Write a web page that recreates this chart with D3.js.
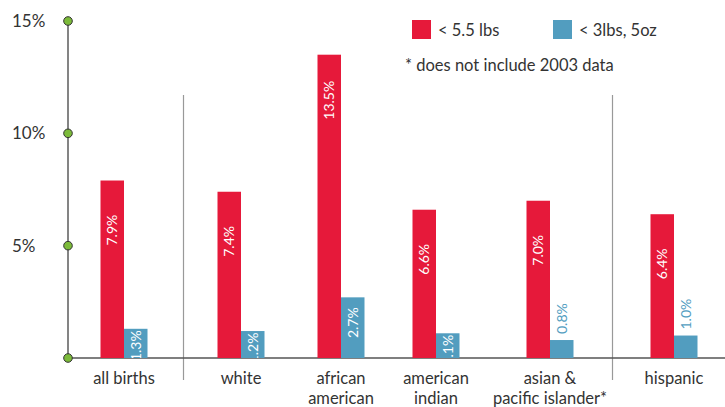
<!DOCTYPE html>
<html>
<head>
<meta charset="utf-8">
<script src="https://cdn.jsdelivr.net/npm/d3@7"></script>
<style>
  html, body { margin: 0; padding: 0; background: #fff; }
  svg { display: block; font-family: Lato, "Open Sans", sans-serif; }
</style>
</head>
<body>
<svg id="chart" width="725" height="407"></svg>
<script>
// ---- data ----
const categories = ["all births", "white", "african american", "american indian", "asian & pacific islander*", "hispanic"];
const categoryLines = [["all births"], ["white"], ["african", "american"], ["american", "indian"], ["asian &", "pacific islander*"], ["hispanic"]];
const under55lbs = [7.9, 7.4, 13.5, 6.6, 7.0, 6.4];
const under3lbs5oz = [1.3, 1.2, 2.7, 1.1, 0.8, 1.0];
const yTicks = [0, 5, 10, 15];
const yTickLabels = ["", "5%", "10%", "15%"];
const seriesNames = ["< 5.5 lbs", "< 3lbs, 5oz"];
const note = "* does not include 2003 data";

// ---- layout ----
const RED = "#E6193A", BLUE = "#529DBF", TEXT = "#333";
const axisX = 68, baseY = 358, topY = 21;
const groupCenters = [124, 241, 341, 436, 550, 674];
const barW = 23.5;

const svg = d3.select("#chart");
const x = d3.scaleOrdinal().domain(categories).range(groupCenters);
const y = d3.scaleLinear().domain([0, 15]).range([baseY, topY]);

// separators
[[0, 1], [4, 5]].forEach(([a, b]) => {
  const sx = Math.round((x(categories[a]) + x(categories[b])) / 2) + 0.5;
  svg.append("line").attr("x1", sx).attr("x2", sx).attr("y1", 95).attr("y2", 380)
    .attr("stroke", "#999").attr("stroke-width", 1.2);
});

// baseline
svg.append("line").attr("x1", axisX).attr("x2", 725).attr("y1", baseY).attr("y2", baseY)
  .attr("stroke", "#555").attr("stroke-width", 1.5);

// y axis line
svg.append("line").attr("x1", axisX).attr("x2", axisX).attr("y1", y(15)).attr("y2", y(0))
  .attr("stroke", "#777").attr("stroke-width", 1.8);

// bars
const rows = categories.map((c, i) => ({ c, r: under55lbs[i], b: under3lbs5oz[i] }));
svg.append("defs").append("clipPath").attr("id", "clipBase")
  .append("rect").attr("x", 0).attr("y", 0).attr("width", 725).attr("height", baseY);

const g = svg.append("g");
g.selectAll("rect.red").data(rows).join("rect").attr("class", "red")
  .attr("x", d => x(d.c) - barW).attr("width", barW)
  .attr("y", d => y(d.r)).attr("height", d => y(0) - y(d.r)).attr("fill", RED);
g.selectAll("rect.blue").data(rows).join("rect").attr("class", "blue")
  .attr("x", d => x(d.c)).attr("width", barW)
  .attr("y", d => y(d.b)).attr("height", d => y(0) - y(d.b)).attr("fill", BLUE);

// red labels
g.selectAll("text.rl").data(rows).join("text").attr("class", "rl")
  .attr("transform", d => `translate(${x(d.c) - barW / 2 + 5},${y(d.r) + 65}) rotate(-90)`)
  .attr("text-anchor", "start").attr("fill", "#fff").attr("font-size", 14)
  .text(d => d.r.toFixed(1) + "%");

// blue labels
const lg = svg.append("g").attr("clip-path", "url(#clipBase)");
lg.selectAll("text.bl").data(rows).join("text").attr("class", "bl")
  .each(function (d) {
    const t = d3.select(this);
    const cx = x(d.c) + barW / 2 + 5;
    const h = y(0) - y(d.b);
    if (d.b <= 1.0) {
      t.attr("transform", `translate(${cx},${y(d.b) - 6}) rotate(-90)`)
        .attr("text-anchor", "start").attr("fill", BLUE);
    } else {
      const off = h > 40 ? 10 : 1.5;
      t.attr("transform", `translate(${cx},${y(d.b) + off}) rotate(-90)`)
        .attr("text-anchor", "end").attr("fill", "#fff");
    }
  })
  .attr("font-size", 14)
  .text(d => d.b.toFixed(1) + "%");

// y ticks
svg.selectAll("circle.tick").data(yTicks).join("circle").attr("class", "tick")
  .attr("cx", axisX).attr("cy", d => y(d)).attr("r", 4.3)
  .attr("fill", "#7CBB3A").attr("stroke", "#333").attr("stroke-width", 1);
svg.selectAll("text.ytl").data(yTicks).join("text").attr("class", "ytl")
  .attr("x", 12).attr("y", d => y(d) + 6).attr("fill", TEXT).attr("font-size", 17)
  .text((d, i) => yTickLabels[i]);

// category labels
categories.forEach((c, i) => {
  const t = svg.append("text").attr("x", x(c)).attr("y", 384).attr("text-anchor", "middle")
    .attr("fill", TEXT).attr("font-size", 16.5);
  categoryLines[i].forEach((line, j) => {
    t.append("tspan").attr("x", x(c)).attr("dy", j === 0 ? 0 : 20).text(line);
  });
});

// legend
const legend = [{ name: seriesNames[0], color: RED, x: 412 }, { name: seriesNames[1], color: BLUE, x: 553 }];
legend.forEach(l => {
  svg.append("rect").attr("x", l.x).attr("y", 20).attr("width", 19).attr("height", 19).attr("fill", l.color);
  svg.append("text").attr("x", l.x + 26).attr("y", 36).attr("fill", TEXT).attr("font-size", 16.5).text(l.name);
});
svg.append("text").attr("x", 405).attr("y", 71).attr("fill", TEXT).attr("font-size", 16.5).text(note);
</script>
</body>
</html>
